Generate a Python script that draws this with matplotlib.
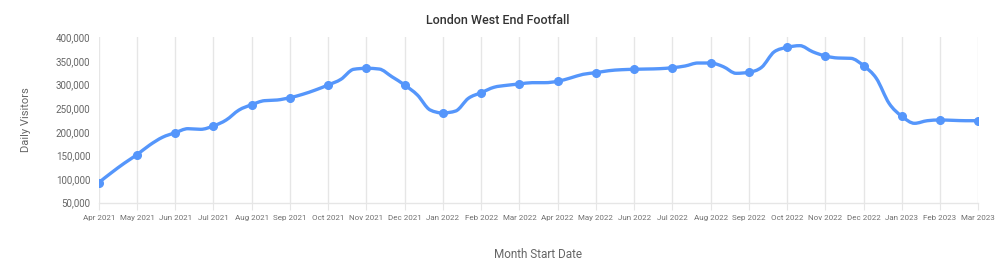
import numpy as np
import matplotlib
matplotlib.use("Agg")
import matplotlib.pyplot as plt
from matplotlib.path import Path
from matplotlib.patches import PathPatch

plt.rcParams['font.family'] = ['Roboto', 'DejaVu Sans']

months = ["Apr 2021", "May 2021", "Jun 2021", "Jul 2021", "Aug 2021", "Sep 2021",
          "Oct 2021", "Nov 2021", "Dec 2021", "Jan 2022", "Feb 2022", "Mar 2022",
          "Apr 2022", "May 2022", "Jun 2022", "Jul 2022", "Aug 2022", "Sep 2022",
          "Oct 2022", "Nov 2022", "Dec 2022", "Jan 2023", "Feb 2023", "Mar 2023"]

# value at the start of each month (marked points)
month_vals = [92400, 151600, 198100, 212300, 257400, 272200, 299100, 334400,
              299100, 239800, 282800, 301200, 306900, 325100, 332300, 335700,
              345600, 325900, 378800, 360400, 339900, 232800, 225000, 223500]
# intermediate readings, one third and two thirds into each month
third1 = [113500, 172000, 206600, 225000, 265900, 279400, 311100, 332900,
          277900, 244000, 294200, 304000, 313900, 329300, 332900, 339300,
          337800, 336500, 382300, 356200, 313200, 218000, 224300]
third2 = [133400, 188400, 205300, 246000, 267300, 288500, 332300, 316600,
          246200, 270900, 298400, 304000, 321700, 331400, 333600, 345600,
          323800, 369500, 369500, 355500, 260300, 223500, 223500]

yticks = [50000, 100000, 150000, 200000, 250000, 300000, 350000, 400000]

# assemble the full series
xs, ys = [], []
for i in range(len(month_vals)):
    xs.append(float(i)); ys.append(month_vals[i])
    if i < len(third1):
        xs.append(i + 1/3); ys.append(third1[i])
        xs.append(i + 2/3); ys.append(third2[i])
xs = np.array(xs); ys = np.array(ys, dtype=float)

# monotone cubic (like d3 curveMonotoneX) as bezier path
n = len(xs)
h = np.diff(xs)
s = np.diff(ys) / h
m = np.zeros(n)
for k in range(1, n - 1):
    s0, s1 = s[k - 1], s[k]
    h0, h1 = h[k - 1], h[k]
    p = (s0 * h1 + s1 * h0) / (h0 + h1)
    m[k] = (np.sign(s0) + np.sign(s1)) * min(abs(s0), abs(s1), 0.5 * abs(p))
m[0] = (3 * s[0] - m[1]) / 2
m[-1] = (3 * s[-1] - m[-2]) / 2

verts = [(xs[0], ys[0])]
codes = [Path.MOVETO]
for k in range(n - 1):
    d = h[k] / 3
    verts += [(xs[k] + d, ys[k] + m[k] * d),
              (xs[k + 1] - d, ys[k + 1] - m[k + 1] * d),
              (xs[k + 1], ys[k + 1])]
    codes += [Path.CURVE4] * 3

fig = plt.figure(figsize=(10, 2.78), dpi=100)
ax = fig.add_axes([0.0987, 0.2709, 0.8796, 0.5949])

blue = '#5596fb'
ax.add_patch(PathPatch(Path(verts, codes), facecolor='none', edgecolor=blue,
                       lw=2.4, capstyle='round', joinstyle='round', zorder=3))
ax.plot(np.arange(len(month_vals)), month_vals, linestyle='none', marker='o',
        markersize=5.5, color=blue, zorder=4)

ax.set_xlim(0, len(months) - 1)
ax.set_ylim(50000, 400000)
ax.set_xticks(np.arange(len(months)))
ax.set_xticklabels(months, fontsize=5.8, color='#707070')
ax.set_yticks(yticks)
ax.set_yticklabels([f"{v:,}" for v in yticks], fontsize=7, color='#666666')

ax.grid(axis='x', color='#e6e6e6', lw=1)
ax.set_axisbelow(True)
for sp in ['top', 'right', 'left']:
    ax.spines[sp].set_visible(False)
ax.spines['bottom'].set_color('#e6e6e6')
ax.spines['bottom'].set_linewidth(1)
ax.tick_params(axis='x', length=5, color='#e6e6e6', pad=4)
ax.tick_params(axis='y', length=0, pad=6)

ax.set_xlabel("Month Start Date", fontsize=8.5, color='#666666', labelpad=19)
ax.set_ylabel("Daily Visitors", fontsize=8, color='#666666', labelpad=18)
fig.text(0.498, 0.925, "London West End Footfall", ha='center', va='center',
         fontsize=9, fontweight='medium', color='#333333')

fig.savefig("out.png", dpi=100)
